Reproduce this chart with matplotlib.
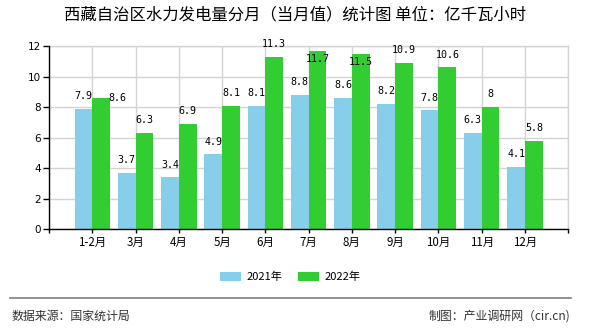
import matplotlib
matplotlib.use("Agg")
import matplotlib.pyplot as plt
import numpy as np

plt.rcParams['font.family'] = ['Noto Sans CJK SC', 'DejaVu Sans']

categories = ["1-2月", "3月", "4月", "5月", "6月", "7月", "8月", "9月", "10月", "11月", "12月"]
values_2021 = [7.9, 3.7, 3.4, 4.9, 8.1, 8.8, 8.6, 8.2, 7.8, 6.3, 4.1]
values_2022 = [8.6, 6.3, 6.9, 8.1, 11.3, 11.7, 11.5, 10.9, 10.6, 8, 5.8]
series_names = ["2021年", "2022年"]
yticks = [0, 2, 4, 6, 8, 10, 12]

title = "西藏自治区水力发电量分月（当月值）统计图 单位：亿千瓦小时"
source = "数据来源：国家统计局"
maker = "制图：产业调研网（cir.cn)"

c1 = "#87CEEB"
c2 = "#32CD32"
grid_c = "#d3d3d3"

fig = plt.figure(figsize=(5.9, 3.3), dpi=100)
ax = fig.add_axes([0.0831, 0.3052, 0.9632 - 0.0831, 0.8606 - 0.3052])

x = np.arange(1, len(categories) + 1)
w = 0.41
b1 = ax.bar(x, values_2021, width=-w, align='edge', color=c1, zorder=2, label=series_names[0])
b2 = ax.bar(x, values_2022, width=w, align='edge', color=c2, zorder=2, label=series_names[1])

ax.set_xlim(0, 12)
ax.set_ylim(0, 12)
ax.set_xticks(np.arange(0, 13))
ax.set_xticklabels([""] + categories + [""], fontsize=8.3)
ax.set_yticks(yticks)
ax.set_yticklabels([str(v) for v in yticks], fontsize=7.5, family='DejaVu Sans')

ax.grid(True, color=grid_c, linewidth=1, zorder=0)
ax.set_axisbelow(True)
for s in ['top', 'right']:
    ax.spines[s].set_color(grid_c)
    ax.spines[s].set_linewidth(1)
for s in ['left', 'bottom']:
    ax.spines[s].set_color('black')
    ax.spines[s].set_linewidth(1)
    ax.spines[s].set_zorder(3)
ax.tick_params(axis='x', length=3, width=1, pad=2, colors='black')
ax.tick_params(axis='y', length=4, width=1, pad=2, colors='black')

lab_kw = dict(fontsize=7.2, family='DejaVu Sans Mono', color='black', zorder=4)

for xi, v in zip(x, values_2021):
    ax.annotate(f"{v:g}", (xi - w / 2, v), xytext=(0, 5.5), textcoords='offset points',
                ha='center', va='bottom', **lab_kw)

for xi, v, v1 in zip(x, values_2022, values_2021):
    if abs(v - v1) < 0.8:
        ax.annotate(f"{v:g}", (xi + w, v), xytext=(-1.5, 0), textcoords='offset points',
                    ha='left', va='center', **lab_kw)
    elif v + 1.0 > 12.4:
        ax.annotate(f"{v:g}", (xi + w / 2, v), xytext=(0, -6.3), textcoords='offset points',
                    ha='center', va='center', **lab_kw)
    else:
        ax.annotate(f"{v:g}", (xi + w / 2, v), xytext=(0, 5.5), textcoords='offset points',
                    ha='center', va='bottom', **lab_kw)

fig.text(0.5, 0.9545, title, ha='center', va='center', fontsize=11.8, color='black')

leg = fig.legend(handles=[b1, b2], labels=series_names, loc='center', bbox_to_anchor=(0.4915, 0.1606),
                 ncol=2, frameon=False, fontsize=8, handlelength=1.9, handleheight=0.8,
                 handletextpad=0.5, columnspacing=1.4, borderaxespad=0, borderpad=0)

fig.add_artist(plt.Line2D([10 / 590, 571 / 590], [1 - 298.3 / 330] * 2, color='#808080', linewidth=1.2))
fig.text(12 / 590, 1 - 316 / 330, source, ha='left', va='center', fontsize=8.6, color='#333333')
fig.text(570 / 590, 1 - 316 / 330, maker, ha='right', va='center', fontsize=8.6, color='#333333')

fig.savefig("out.png", dpi=100)
